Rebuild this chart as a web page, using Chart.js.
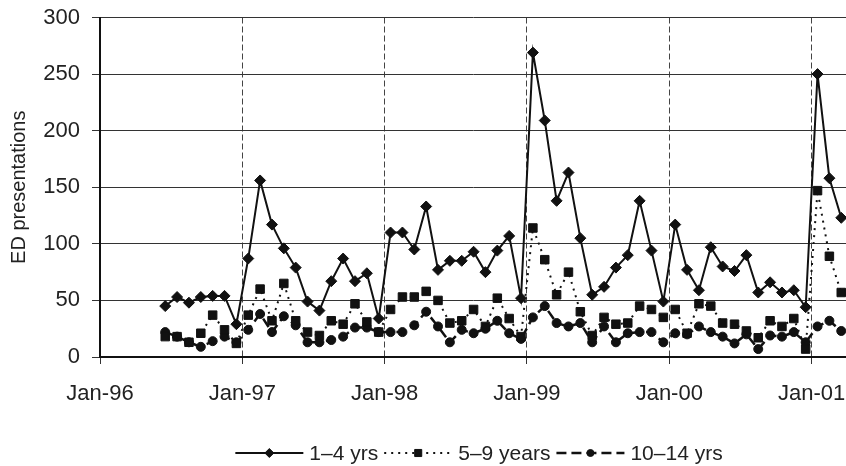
<!DOCTYPE html>
<html>
<head>
<meta charset="utf-8">
<script src="https://cdn.jsdelivr.net/npm/chart.js@4/dist/chart.umd.min.js"></script>
<style>
  html, body { margin: 0; padding: 0; background: #fff; }
</style>
</head>
<body>
<canvas id="edChart" width="846" height="466"></canvas>
<script>
// x axis is months since Jan-96; first point is Jun-96, plotted mid-month
const firstMonth = 5.5;
const yearTicks = [0, 12, 24, 36, 48, 60];
const yearLabels = ['Jan-96', 'Jan-97', 'Jan-98', 'Jan-99', 'Jan-00', 'Jan-01'];
const yTicks = [0, 50, 100, 150, 200, 250, 300];

// monthly ED presentations, Jun-96 .. Mar-01
const age1to4 = [
  45, 53, 48, 53, 54, 54, 29,
  87, 156, 117, 96, 79, 49, 41, 67, 87, 67, 74, 34,
  110, 110, 95, 133, 77, 85, 85, 93, 75, 94, 107, 52,
  269, 209, 138, 163, 105, 55, 62, 79, 90, 138, 94, 49,
  117, 77, 59, 97, 80, 76, 90, 57, 66, 57, 59, 44,
  250, 158, 123
];
const age5to9 = [
  18, 18, 13, 21, 37, 24, 12,
  37, 60, 32, 65, 32, 22, 19, 32, 29, 47, 31, 22,
  42, 53, 53, 58, 50, 30, 32, 42, 27, 52, 34, 18,
  114, 86, 55, 75, 40, 19, 35, 29, 30, 45, 42, 35,
  42, 21, 47, 45, 30, 29, 23, 17, 32, 27, 34, 7,
  147, 89, 57
];
const age10to14 = [
  22, 18, 13, 9, 14, 18, 13,
  24, 38, 22, 36, 28, 13, 13, 15, 18, 26, 26, 22,
  22, 22, 28, 40, 27, 13, 24, 21, 25, 32, 21, 16,
  35, 45, 30, 27, 30, 13, 27, 13, 21, 22, 22, 13,
  21, 20, 27, 22, 18, 12, 20, 7, 19, 18, 22, 13,
  27, 32, 23
];

const FONT = '"Liberation Sans", Arial, sans-serif';
const ink = '#111';

function toPoints(values) {
  return values.map((v, i) => ({ x: firstMonth + i, y: v }));
}

// legend drawn by hand so each entry shows a line sample with the marker on it
const lineLegend = {
  id: 'lineLegend',
  afterDraw(chart) {
    const ctx = chart.ctx;
    const y = 453;
    const lineLen = 68;
    const gap = 6;
    const sets = chart.data.datasets;
    ctx.save();
    ctx.font = '21px ' + FONT;
    ctx.textBaseline = 'middle';
    ctx.textAlign = 'left';
    let total = 0;
    sets.forEach(ds => { total += lineLen + gap + ctx.measureText(ds.label).width + gap; });
    total -= gap;
    let x = 479 - total / 2;
    sets.forEach(ds => {
      ctx.strokeStyle = ds.borderColor;
      ctx.lineWidth = ds.borderWidth;
      ctx.setLineDash(ds.borderDash || []);
      ctx.beginPath();
      ctx.moveTo(x, y);
      ctx.lineTo(x + lineLen, y);
      ctx.stroke();
      ctx.setLineDash([]);
      ctx.fillStyle = ink;
      ctx.strokeStyle = ink;
      ctx.lineWidth = 1;
      Chart.helpers.drawPoint(ctx, { pointStyle: ds.pointStyle, radius: ds.pointRadius - 1, rotation: 0, borderWidth: 1 }, x + lineLen / 2, y);
      ctx.fillStyle = '#222';
      ctx.fillText(ds.label, x + lineLen + gap, y + 1);
      x += lineLen + gap + ctx.measureText(ds.label).width + gap;
    });
    ctx.restore();
  }
};

new Chart(document.getElementById('edChart'), {
  type: 'line',
  data: {
    datasets: [
      {
        label: '1–4 yrs',
        data: toPoints(age1to4),
        borderColor: ink,
        borderWidth: 2,
        pointStyle: 'rectRot',
        pointRadius: 5.5,
        pointBackgroundColor: ink,
        pointBorderColor: ink,
        pointBorderWidth: 1
      },
      {
        label: '5–9 years',
        data: toPoints(age5to9),
        borderColor: ink,
        borderWidth: 2,
        borderDash: [2, 5],
        pointStyle: 'rect',
        pointRadius: 6,
        pointBackgroundColor: ink,
        pointBorderColor: ink,
        pointBorderWidth: 1
      },
      {
        label: '10–14 yrs',
        data: toPoints(age10to14),
        borderColor: ink,
        borderWidth: 2.5,
        borderDash: [10, 5],
        pointStyle: 'circle',
        pointRadius: 4.5,
        pointBackgroundColor: ink,
        pointBorderColor: ink,
        pointBorderWidth: 1
      }
    ]
  },
  options: {
    responsive: false,
    animation: false,
    layout: { autoPadding: false, padding: { top: 17.5, right: 0, bottom: 0, left: 0 } },
    plugins: {
      legend: { display: false },
      tooltip: { enabled: false }
    },
    elements: { line: { tension: 0 } },
    scales: {
      x: {
        type: 'linear',
        min: 0,
        max: 62.9,
        afterBuildTicks: s => { s.ticks = yearTicks.map(v => ({ value: v })); },
        afterFit: s => {
          s.height = 109;
          s.paddingLeft = 0;
          s.paddingRight = 0;
        },
        // in v4 border.dash styles the grid lines, the axis line itself stays solid
        border: { display: true, color: ink, width: 2, dash: [6, 3] },
        grid: {
          color: c => (c.tick && c.tick.value === 0 ? 'rgba(0,0,0,0)' : '#444'),
          tickColor: '#333',
          lineWidth: 1,
          tickBorderDash: [6, 3],
          tickLength: 8
        },
        ticks: {
          color: '#222',
          font: { family: FONT, size: 22 },
          padding: 16,
          maxRotation: 0,
          autoSkip: false,
          callback: (v, i) => yearLabels[i]
        }
      },
      y: {
        min: 0,
        max: 300,
        afterBuildTicks: s => { s.ticks = yTicks.map(v => ({ value: v })); },
        afterFit: s => {
          s.width = 100;
          s.paddingTop = 0;
          s.paddingBottom = 0;
        },
        border: { display: true, color: ink, width: 2 },
        grid: {
          color: '#333',
          lineWidth: 1,
          tickLength: 8,
          tickColor: '#333'
        },
        ticks: {
          color: '#222',
          font: { family: FONT, size: 22 },
          padding: 12
        },
        title: {
          display: true,
          text: 'ED presentations',
          color: '#222',
          font: { family: FONT, size: 20 },
          padding: { top: 7, bottom: 0 }
        }
      }
    }
  },
  plugins: [lineLegend]
});
</script>
</body>
</html>
